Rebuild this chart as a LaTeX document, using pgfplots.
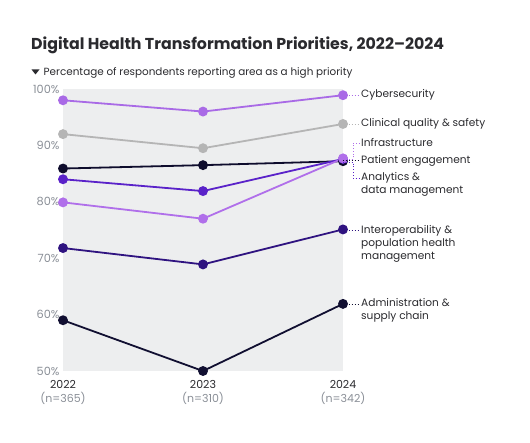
\documentclass[border=0pt]{standalone}
\usepackage{pgfplots}
\pgfplotsset{compat=1.18}
\usepackage{fontspec}
\setmainfont{Poppins}
\definecolor{bgc}{HTML}{EDEEEF}
\definecolor{cyber}{HTML}{A96AE6}
\definecolor{clin}{HTML}{B5B5B5}
\definecolor{pat}{HTML}{0E0C2C}
\definecolor{anal}{HTML}{5A22C9}
\definecolor{infra}{HTML}{B06FEA}
\definecolor{inter}{HTML}{2F1380}
\definecolor{admin}{HTML}{110F31}
\definecolor{txt}{HTML}{2A2A2E}
\definecolor{tick}{HTML}{8A8F97}
\begin{document}
\begin{tikzpicture}[x=1pt,y=1pt]
\path[use as bounding box] (0,0) rectangle (530,442);
\begin{axis}[
  at={(63pt,71pt)}, anchor=south west,
  width=280pt, height=282pt, scale only axis,
  xmin=0, xmax=2, ymin=50, ymax=100,
  axis line style={draw=none},
  axis background/.style={fill=bgc},
  clip=false,
  ytick={50,60,70,80,90,100},
  yticklabels={50\%,60\%,70\%,80\%,90\%,100\%},
  yticklabel style={font=\fontsize{11.3}{12}\selectfont, text=tick, xshift=0pt},
  xtick={0,1,2},
  xticklabels={{\textcolor{txt}{2022}\\\textcolor{tick}{(n=365)}},{\textcolor{txt}{2023}\\\textcolor{tick}{(n=310)}},{\textcolor{txt}{2024}\\\textcolor{tick}{(n=342)}}},
  xticklabel style={font=\fontsize{11}{13.5}\selectfont, align=center, yshift=-6pt},
  major tick length=0pt,
  tick style={draw=none},
  every axis plot/.append style={line width=1.8pt, mark=*, mark size=4pt},
]
\addplot[color=clin] coordinates {(0,92) (1,89.5) (2,93.8)};
\addplot[color=cyber] coordinates {(0,98) (1,96) (2,98.9)};
\addplot[color=admin] coordinates {(0,59) (1,50) (2,61.9)};
\addplot[color=inter] coordinates {(0,71.8) (1,68.9) (2,75.1)};
\addplot[color=pat] coordinates {(0,85.9) (1,86.5) (2,87.2)};
\addplot[color=anal] coordinates {(0,84) (1,81.9) (2,87.6)};
\addplot[color=infra] coordinates {(0,79.9) (1,77) (2,87.7)};
\end{axis}
% title and subtitle
\node[anchor=base west, inner sep=0pt, text=txt, font=\fontsize{15.8}{18}\selectfont\bfseries] at (31,392.7) {Digital Health Transformation Priorities, 2022–2024};
\fill[txt] (31.5,372.5) -- (39.5,372.5) -- (35.5,367.5) -- cycle;
\node[anchor=base west, inner sep=0pt, text=txt, font=\fontsize{10.4}{13}\selectfont] at (43.5,366) {Percentage of respondents reporting area as a high priority};
% leaders
\begin{scope}[line width=0.9pt, dotted]
\draw[cyber] (343,347) -- (360,347);
\draw[clin] (343,318) -- (360,318);
\draw[pat] (343,281.5) -- (360,281.5);
\draw[infra] (343,283) -- (353,283) -- (353,299) -- (360,299);
\draw[anal] (343,280) -- (353,280) -- (353,263.7) -- (360,263.7);
\draw[inter] (343,211.5) -- (360,211.5);
\draw[admin] (343,138) -- (360,138);
\end{scope}
\begin{scope}[every node/.style={anchor=west, inner sep=0pt, text=txt, align=left, font=\fontsize{10.6}{12.7}\selectfont}]
\node at (361,347) {Cybersecurity};
\node at (361,318) {Clinical quality \& safety};
\node at (361,299) {Infrastructure};
\node at (361,281.5) {Patient engagement};
\node at (361,257.3) {Analytics \&\\data management};
\node at (361,198.3) {Interoperability \&\\population health\\management};
\node at (361,131.5) {Administration \&\\supply chain};
\end{scope}
\end{tikzpicture}
\end{document}
